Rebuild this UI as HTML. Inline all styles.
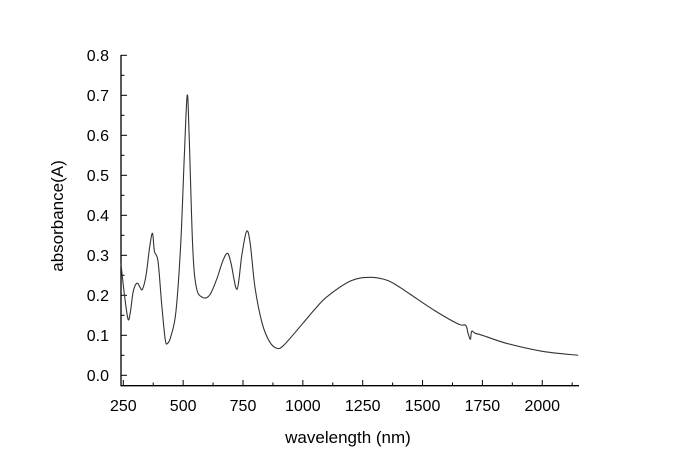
<!DOCTYPE html>
<html><head><meta charset="utf-8"><style>
body{margin:0;background:#fff}
svg{display:block;font-family:"Liberation Sans",Arial,sans-serif}
</style></head><body>
<svg id="chart" width="674" height="475">
<g id="axes"></g>
<path id="series" fill="none" stroke="#333" stroke-width="1.1"/>
<text x="348" y="443" font-size="17" text-anchor="middle">wavelength (nm)</text>
<text transform="translate(63,216) rotate(-90)" font-size="17" text-anchor="middle">absorbance(A)</text>
</svg>
<script>
const wavelengths=[240,255,270,280,290,300,310,320,330,345,360,372,380,395,410,425,435,450,470,490,505,517,525,540,555,580,610,640,665,685,700,725,745,765,780,800,830,860,890,920,1000,1050,1100,1200,1280,1350,1400,1450,1550,1650,1680,1690,1700,1705,1720,1750,1850,2000,2150];
const absorbance=[0.28,0.2,0.14,0.16,0.205,0.225,0.23,0.22,0.215,0.25,0.32,0.355,0.31,0.285,0.18,0.09,0.08,0.1,0.16,0.33,0.55,0.70,0.6,0.32,0.22,0.195,0.2,0.24,0.285,0.305,0.28,0.215,0.3,0.36,0.33,0.22,0.13,0.085,0.068,0.075,0.13,0.165,0.196,0.236,0.245,0.238,0.222,0.202,0.162,0.128,0.125,0.105,0.09,0.11,0.105,0.1,0.08,0.06,0.05];
const xTicks=[250,500,750,1000,1250,1500,1750,2000];
const yTicks=[0.0,0.1,0.2,0.3,0.4,0.5,0.6,0.7,0.8];
const xs=v=>123.3+(v-250)*0.2394;
const ys=v=>375.3-v*400;
const NS="http://www.w3.org/2000/svg";
const axes=document.getElementById('axes');
function mk(tag,attrs,parent){const e=document.createElementNS(NS,tag);for(const k in attrs)e.setAttribute(k,attrs[k]);parent.appendChild(e);return e;}
const xl=mk('line',{x1:121,y1:385.7,x2:579,y2:385.7,stroke:'#000','stroke-width':1.3},axes);


const yl=mk('line',{x1:121,y1:55,x2:121,y2:386.3,stroke:'#000','stroke-width':1.3},axes);


xTicks.forEach(t=>{const x=xs(t);
 mk('line',{x1:x,y1:385.7,x2:x,y2:380,stroke:'#000'},axes);
 const mx=xs(t+125); if(mx<579) mk('line',{x1:mx,y1:385.7,x2:mx,y2:382.5,stroke:'#000'},axes);
 const tx=mk('text',{x:x,y:411,'font-size':16,'text-anchor':'middle'},axes);tx.textContent=t;
 
 
});
yTicks.forEach(t=>{const y=ys(t);
 mk('line',{x1:121,y1:y,x2:127,y2:y,stroke:'#000'},axes);
 if(t<0.8) mk('line',{x1:121,y1:ys(t+0.05),x2:124.5,y2:ys(t+0.05),stroke:'#000'},axes);
 const tx=mk('text',{x:109,y:y+5.5,'font-size':16,'text-anchor':'end'},axes);tx.textContent=t.toFixed(1);
 
 
});
const P=wavelengths.map((w,i)=>[xs(w),ys(absorbance[i])]);
let d='M'+P[0][0]+','+P[0][1];
for(let i=0;i<P.length-1;i++){const p0=P[i-1]||P[i],p1=P[i],p2=P[i+1],p3=P[i+2]||p2;
 const c1=[p1[0]+(p2[0]-p0[0])/6,p1[1]+(p2[1]-p0[1])/6],c2=[p2[0]-(p3[0]-p1[0])/6,p2[1]-(p3[1]-p1[1])/6];
 d+=`C${c1[0]},${c1[1]} ${c2[0]},${c2[1]} ${p2[0]},${p2[1]}`;}
document.getElementById('series').setAttribute('d',d);
</script>
</body></html>
